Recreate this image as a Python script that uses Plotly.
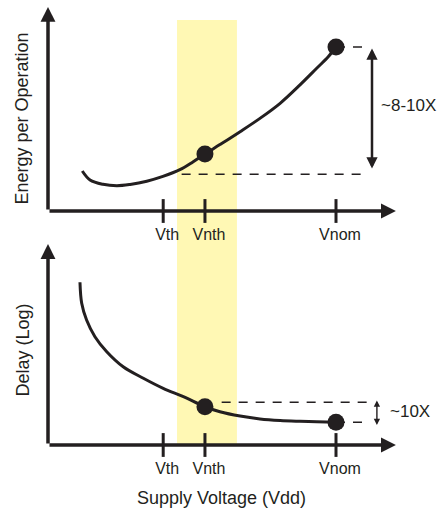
import plotly.graph_objects as go

# Supply-voltage positions (normalised so that Vnom = 1)
tick_labels = ["Vth", "Vnth", "Vnom"]
tick_volts = [0.40, 0.545, 1.00]

# Near-threshold operating window
band_volts = [0.448, 0.656]

# Energy per operation vs. supply voltage (arbitrary units)
energy_v = [0.119, 0.146, 0.191, 0.239, 0.285, 0.343, 0.399, 0.458, 0.503,
            0.545, 0.597, 0.667, 0.736, 0.806, 0.875, 0.933, 0.973, 1.000]
energy_e = [2.50, 1.94, 1.67, 1.58, 1.66, 1.86, 2.16, 2.58, 3.06,
            3.56, 4.15, 4.96, 5.79, 6.73, 7.88, 8.92, 9.64, 10.25]

# Delay vs. supply voltage (log scale, arbitrary units)
delay_v = [0.111, 0.117, 0.134, 0.163, 0.204, 0.261, 0.331, 0.400, 0.470,
           0.545, 0.597, 0.667, 0.736, 0.806, 0.875, 0.933, 1.000]
delay_d = [10.17, 8.86, 7.81, 6.77, 5.83, 4.89, 4.17, 3.54, 3.02,
           2.39, 2.08, 1.81, 1.63, 1.53, 1.48, 1.45, 1.42]

# Highlighted operating points (Vnth and Vnom)
op_volts = [0.545, 1.000]
op_energy = [3.56, 10.25]
op_delay = [2.39, 1.42]

# Reference levels used for the ratio brackets
energy_floor = 2.30
delay_ref = 2.67
bracket_end_v = 1.108
energy_arrow = [10.25, 2.65]
delay_arrow = [2.875, 1.25]
energy_ratio_label = "~8-10X"
delay_ratio_label = "~10X"

# Axis extents
axis_v_end = 1.208
energy_axis_top = 12.75
delay_axis_top = 12.56

INK = "#231f20"
YELLOW = "#fff8b4"
FONT = "Liberation Sans, Arial, Helvetica, sans-serif"

W, H = 440, 511

fig = go.Figure()

# Yellow near-threshold band spanning both panels
fig.add_shape(type="rect", xref="x", yref="paper",
              x0=band_volts[0], x1=band_volts[1],
              y0=(H - 444) / H, y1=(H - 20) / H,
              fillcolor=YELLOW, line_width=0, layer="below")

dash_style = dict(color=INK, width=1.4, dash="9px,8px")
curve_style = dict(color=INK, width=3, shape="spline", smoothing=1.0)

# --- Top panel: energy ---
fig.add_trace(go.Scatter(x=[energy_v[7] + 0.006, bracket_end_v], y=[energy_floor] * 2,
                         mode="lines", line=dash_style, xaxis="x", yaxis="y"))
fig.add_trace(go.Scatter(x=[op_volts[1], bracket_end_v], y=[op_energy[1]] * 2,
                         mode="lines", line=dash_style, xaxis="x", yaxis="y"))
fig.add_trace(go.Scatter(x=energy_v, y=energy_e, mode="lines", line=curve_style,
                         xaxis="x", yaxis="y"))
fig.add_trace(go.Scatter(x=op_volts, y=op_energy, mode="markers",
                         marker=dict(color=INK, size=17), cliponaxis=False,
                         xaxis="x", yaxis="y"))
fig.add_trace(go.Scatter(x=tick_volts, y=[0] * len(tick_volts), mode="markers",
                         marker=dict(symbol="line-ns", size=17,
                                     line=dict(color=INK, width=3)),
                         cliponaxis=False, xaxis="x", yaxis="y"))

# --- Bottom panel: delay ---
fig.add_trace(go.Scatter(x=[op_volts[0] + 0.058, bracket_end_v], y=[delay_ref] * 2,
                         mode="lines", line=dash_style, xaxis="x2", yaxis="y2"))
fig.add_trace(go.Scatter(x=[op_volts[1], bracket_end_v], y=[op_delay[1]] * 2,
                         mode="lines", line=dash_style, xaxis="x2", yaxis="y2"))
fig.add_trace(go.Scatter(x=delay_v, y=delay_d, mode="lines", line=curve_style,
                         xaxis="x2", yaxis="y2"))
fig.add_trace(go.Scatter(x=op_volts, y=op_delay, mode="markers",
                         marker=dict(color=INK, size=17), cliponaxis=False,
                         xaxis="x2", yaxis="y2"))
fig.add_trace(go.Scatter(x=tick_volts, y=[0] * len(tick_volts), mode="markers",
                         marker=dict(symbol="line-ns", size=17,
                                     line=dict(color=INK, width=3)),
                         cliponaxis=False, xaxis="x2", yaxis="y2"))


def arrow(xr, yr, x, y, ax, ay, width, size, both=False):
    return dict(xref=xr, yref=yr, axref=xr, ayref=yr, x=x, y=y, ax=ax, ay=ay,
                text="", showarrow=True, arrowhead=2, startarrowhead=2,
                arrowside="end+start" if both else "end",
                arrowwidth=width, arrowsize=size, startarrowsize=size,
                arrowcolor=INK, standoff=0, startstandoff=0)


annotations = [
    # axes with arrowheads
    arrow("x", "y", 0, energy_axis_top, 0, 0, 3.5, 0.85),
    arrow("x", "y", axis_v_end, 0, 0, 0, 3.5, 0.85),
    arrow("x2", "y2", 0, delay_axis_top, 0, 0, 3.5, 0.85),
    arrow("x2", "y2", axis_v_end, 0, 0, 0, 3.5, 0.85),
    # ratio brackets
    arrow("x", "y", 1.125, energy_arrow[1], 1.125, energy_arrow[0], 2.5, 0.9, both=True),
    arrow("x2", "y2", 1.142, delay_arrow[1], 1.142, delay_arrow[0], 1.4, 0.9, both=True),
    dict(xref="x", yref="y", x=1.150, y=6.6, text=energy_ratio_label, showarrow=False,
         xanchor="left", yanchor="middle", font=dict(size=17, color=INK, family=FONT)),
    dict(xref="x2", yref="y2", x=1.180, y=2.125, text=delay_ratio_label, showarrow=False,
         xanchor="left", yanchor="middle", font=dict(size=17, color=INK, family=FONT)),
    # axis titles
    dict(xref="paper", yref="paper", x=22 / W, y=(H - 118.5) / H, text="Energy per Operation",
         textangle=-90, showarrow=False, xanchor="center", yanchor="middle",
         font=dict(size=18, color=INK, family=FONT)),
    dict(xref="paper", yref="paper", x=22 / W, y=(H - 350.5) / H, text="Delay (Log)",
         textangle=-90, showarrow=False, xanchor="center", yanchor="middle",
         font=dict(size=18, color=INK, family=FONT)),
    dict(xref="paper", yref="paper", x=221 / W, y=(H - 498) / H, text="Supply Voltage (Vdd)",
         showarrow=False, xanchor="center", yanchor="middle",
         font=dict(size=18, color=INK, family=FONT)),
]

xrange = [-48 / 288, 392 / 288]
xaxis_common = dict(range=xrange, domain=[0, 1], showgrid=False, zeroline=False,
                    showline=False, ticks="", tickvals=tick_volts, ticktext=tick_labels,
                    tickfont=dict(size=16, color=INK, family=FONT),
                    ticklabelstandoff=12, ticklabelshift=4, fixedrange=True)
yaxis_common = dict(showgrid=False, zeroline=False, showline=False,
                    showticklabels=False, ticks="", fixedrange=True)

fig.update_layout(
    width=W, height=H,
    margin=dict(l=0, r=0, t=0, b=0),
    paper_bgcolor="white", plot_bgcolor="rgba(0,0,0,0)",
    showlegend=False,
    xaxis=dict(xaxis_common, anchor="y"),
    xaxis2=dict(xaxis_common, anchor="y2"),
    yaxis=dict(yaxis_common, domain=[(H - 211) / H, 1.0], range=[0, 211 / 16]),
    yaxis2=dict(yaxis_common, domain=[(H - 445) / H, (H - 240) / H], range=[0, 205 / 16]),
    annotations=annotations,
    font=dict(family=FONT, color=INK),
)

fig.write_html("out.html")
